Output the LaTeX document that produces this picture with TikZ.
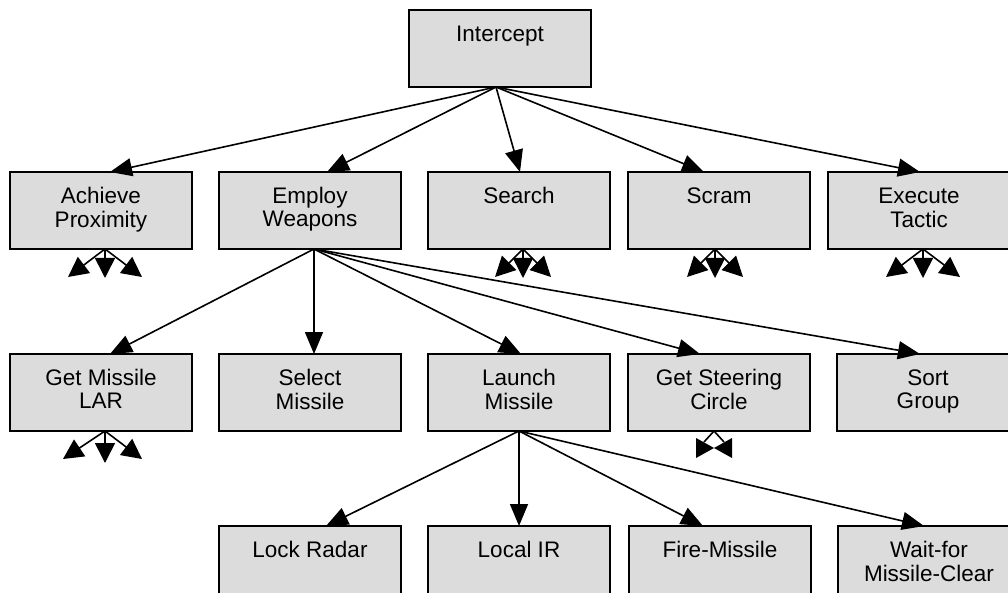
\documentclass[tikz,border=0pt]{standalone}
\usepackage{fontspec}
\setmainfont{Liberation Sans}
\usetikzlibrary{arrows.meta,calc}
\definecolor{boxgray}{RGB}{220,220,220}
\newcommand{\bt}[1]{\parbox[c][77pt][t]{180pt}{\centering\fontsize{22.5}{23}\selectfont\vspace*{15pt}\strut #1}}
\begin{document}
\begin{tikzpicture}[x=1pt,y=-1pt,
  box/.style={draw,line width=1.6pt,fill=boxgray,inner sep=0pt,outer sep=0pt,minimum width=182pt,anchor=north west},
  conn/.style={line width=1.6pt,-{Triangle[length=22pt,width=18pt]}},
  stub/.style={line width=1.6pt,-{Triangle[length=20pt,width=20pt]}}]
\useasboundingbox (0,0) rectangle (1008,593);
% nodes
\node[box] (int) at (409,10) {\bt{Intercept}};
\node[box] (ach) at (10,172) {\bt{Achieve\\Proximity}};
\node[box] (emp) at (219,172) {\bt{Employ\\Weapons}};
\node[box] (sea) at (428,172) {\bt{Search}};
\node[box] (scr) at (628,172) {\bt{Scram}};
\node[box] (exe) at (828,172) {\bt{Execute\\Tactic}};
\node[box] (lar) at (10,354) {\bt{Get Missile\\LAR}};
\node[box] (sel) at (219,354) {\bt{Select\\Missile}};
\node[box] (lau) at (428,354) {\bt{Launch\\Missile}};
\node[box] (ste) at (628,354) {\bt{Get Steering\\Circle}};
\node[box] (sor) at (837,354) {\bt{Sort\\Group}};
\node[box] (loc) at (219,526) {\bt{Lock Radar}};
\node[box] (lir) at (428,526) {\bt{Local IR}};
\node[box] (fir) at (629,526) {\bt{Fire-Missile}};
\node[box] (wai) at (838,526) {\bt{Wait-for\\Missile-Clear}};
% sources
\coordinate (intS) at ($(int.south)+(-4,0)$);
\coordinate (empS) at ($(emp.south)+(4,0)$);
\coordinate (lauS) at (lau.south);
% level 1
\draw[conn] (intS) -- ($(ach.north)+(9,0)$);
\draw[conn] (intS) -- ($(emp.north)+(17,0)$);
\draw[conn] (intS) -- ($(sea.north)+(1,0)$);
\draw[conn] (intS) -- ($(scr.north)+(-15,0)$);
\draw[conn] (intS) -- ($(exe.north)+(1,0)$);
% level 2
\draw[conn] (empS) -- ($(lar.north)+(9,0)$);
\draw[conn] (empS) -- ($(sel.north)+(4,0)$);
\draw[conn] (empS) -- ($(lau.north)+(2,0)$);
\draw[conn] (empS) -- ($(ste.north)+(-19,0)$);
\draw[conn] (empS) -- ($(sor.north)+(-8,0)$);
% level 3
\draw[conn] (lauS) -- ($(loc.north)+(16,0)$);
\draw[conn] (lauS) -- (lir.north);
\draw[conn] (lauS) -- ($(fir.north)+(-17,0)$);
\draw[conn] (lauS) -- ($(wai.north)+(-5,0)$);
% elided children
\coordinate (achS) at ($(ach.south)+(4,0)$);
\draw[stub] (achS) -- ++(-37,28);
\draw[stub] (achS) -- ++(0,29);
\draw[stub] (achS) -- ++(37,28);
\coordinate (seaS) at ($(sea.south)+(4,0)$);
\draw[stub] (seaS) -- ++(-28,28);
\draw[stub] (seaS) -- ++(0,29);
\draw[stub] (seaS) -- ++(28,28);
\coordinate (scrS) at ($(scr.south)+(-4,0)$);
\draw[stub] (scrS) -- ++(-28,28);
\draw[stub] (scrS) -- ++(0,29);
\draw[stub] (scrS) -- ++(28,28);
\coordinate (exeS) at ($(exe.south)+(4,0)$);
\draw[stub] (exeS) -- ++(-37,28);
\draw[stub] (exeS) -- ++(0,29);
\draw[stub] (exeS) -- ++(37,28);
\coordinate (larS) at ($(lar.south)+(4,0)$);
\draw[stub] (larS) -- ++(-42,28);
\draw[stub] (larS) -- ++(0,32);
\draw[stub] (larS) -- ++(37,28);
\coordinate (steS) at ($(ste.south)+(-5,0)$);
\draw[line width=1.6pt] (steS) -- ++(-10,11);
\draw[line width=1.6pt] (steS) -- ++(10,11);
\fill ($(steS)+(-18,7)$) -- ($(steS)+(-18,27)$) -- ($(steS)+(0,17)$) -- cycle;
\fill ($(steS)+(18,7)$) -- ($(steS)+(18,27)$) -- ($(steS)+(0,17)$) -- cycle;
\end{tikzpicture}
\end{document}
